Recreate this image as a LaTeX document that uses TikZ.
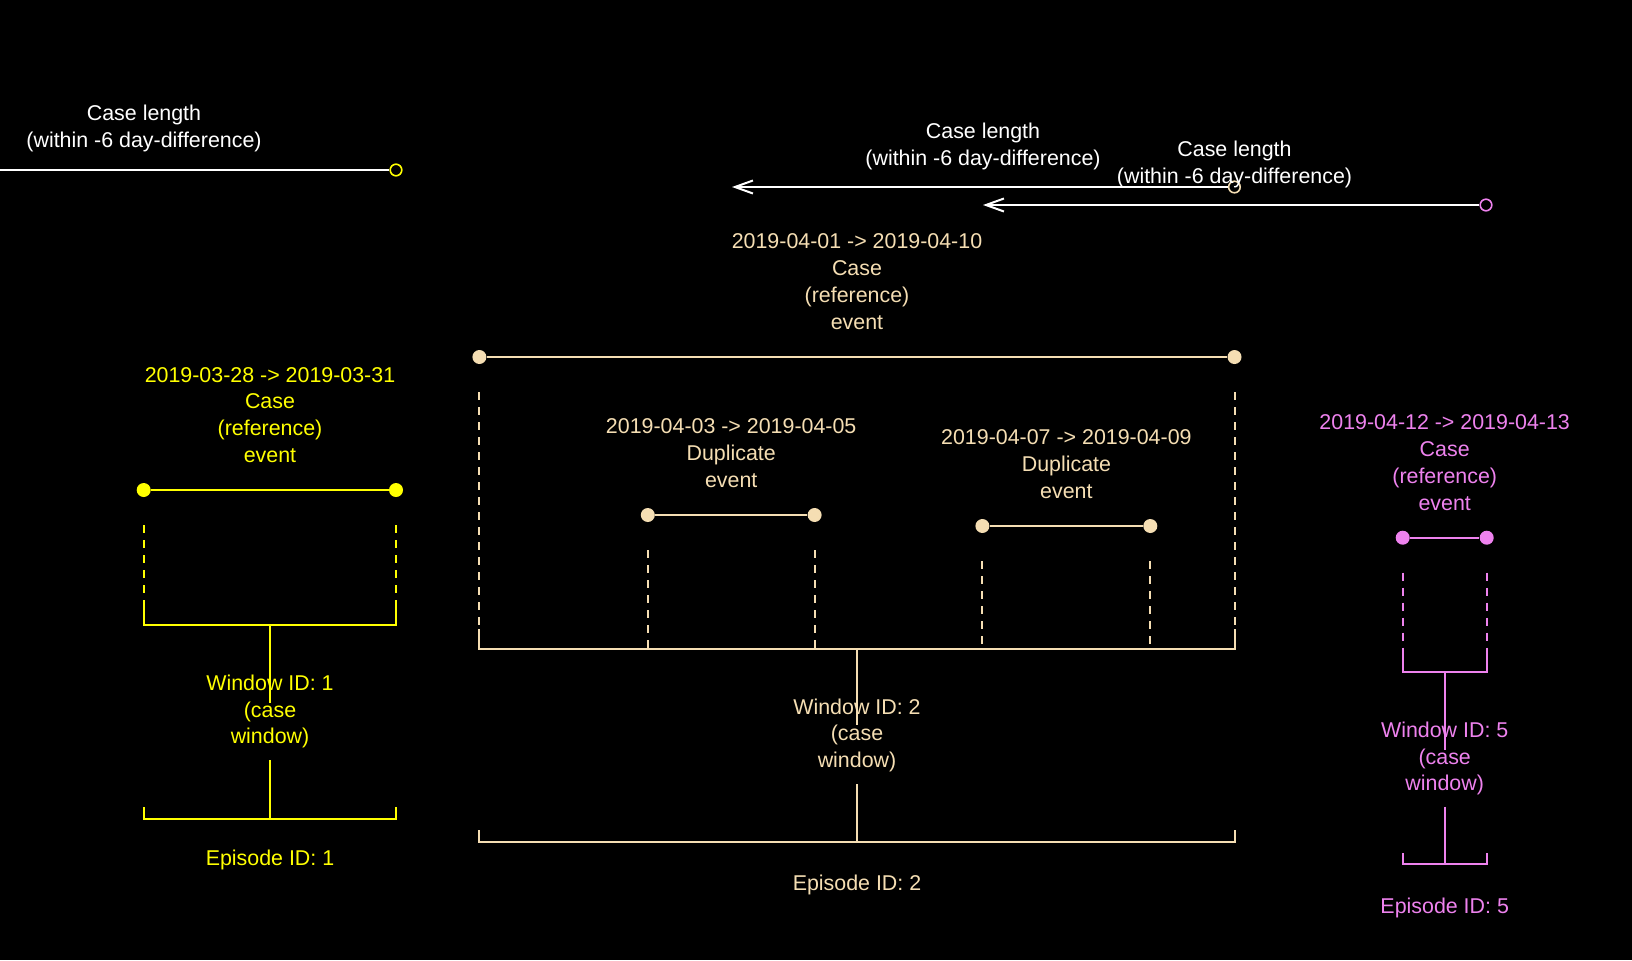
\documentclass[tikz,border=0pt]{standalone}
\usepackage{fontspec}
\setmainfont{Liberation Sans}
\usetikzlibrary{arrows.meta}
\definecolor{cyel}{RGB}{255,255,0}
\definecolor{cwht}{RGB}{245,222,179}
\definecolor{cvio}{RGB}{238,130,238}
\begin{document}
\begin{tikzpicture}[x=0.5pt,y=-0.5pt,
  lbl/.style={anchor=north, inner sep=0pt, align=center, font=\fontsize{10.7pt}{13.4pt}\selectfont},
  dot/.style={circle, fill=#1, inner sep=0pt, minimum size=7pt},
  ocirc/.style={circle, draw=#1, fill=black, line width=0.8pt, inner sep=0pt, minimum size=5.8pt},
  seg/.style={line width=1pt},
  dashline/.style={line width=1pt, dash pattern=on 4pt off 3.5pt},
  lenarrow/.style={white, line width=1pt, -{Straight Barb[length=9pt,width=6.5pt]}},
]
\path[use as bounding box, fill=black] (0,0) rectangle (1632,960);
\clip (0,0) rectangle (1632,960);

% ---------------- Case length arrows ----------------
\coordinate (t1) at (-106,170);
\node[ocirc=cyel] (c1) at (396,170) {};
\draw[lenarrow] (c1) -- (t1);
\node[lbl, white] (cl1) at (144,101.2) {\strut Case length\\(within -6 day-difference)};

\coordinate (t2) at (732,187);
\node[ocirc=cwht] (c2) at (1234.4,187) {};
\draw[lenarrow] (c2) -- (t2);
\node[lbl, white] (cl2) at (983,119.6) {\strut Case length\\(within -6 day-difference)};

\coordinate (t3) at (983,205);
\node[ocirc=cvio] (c3) at (1486,205) {};
\draw[lenarrow] (c3) -- (t3);
\node[lbl, white] (cl3) at (1234.5,137.2) {\strut Case length\\(within -6 day-difference)};

% ---------------- Left group (yellow) ----------------
\node[lbl, cyel] (e1lbl) at (270,362.9) {\strut 2019-03-28 -> 2019-03-31\\Case\\(reference)\\event};
\node[dot=cyel] (e1a) at (143.7,490) {};
\node[dot=cyel] (e1b) at (396,490) {};
\draw[seg, cyel] (e1a) -- (e1b);
\coordinate (d1a) at (143.7,525);
\coordinate (d1b) at (396,525);
\coordinate (w1l) at (143.7,625);
\coordinate (w1r) at (396,625);
\draw[dashline, cyel] (d1a) -- (w1l);
\draw[dashline, cyel] (d1b) -- (w1r);
\draw[seg, cyel] (143.7,606) -- (w1l) -- (w1r) -- (396,606);
\coordinate (w1c) at (270,625);
\coordinate (s1e) at (270,703);
\draw[seg, cyel] (w1c) -- (s1e);
\node[lbl, cyel] (win1) at (270,671.2) {\strut Window ID: 1\\(case\\window)};
\coordinate (s1b) at (270,760);
\coordinate (p1c) at (270,818.7);
\draw[seg, cyel] (s1b) -- (p1c);
\draw[seg, cyel] (143.7,807.3) -- (143.7,818.7) -- (396,818.7) -- (396,807.3);
\node[lbl, cyel] (ep1) at (270,846.2) {\strut Episode ID: 1};

% ---------------- Middle group (wheat) ----------------
\node[lbl, cwht] (e2lbl) at (857,229.6) {\strut 2019-04-01 -> 2019-04-10\\Case\\(reference)\\event};
\node[dot=cwht] (e2a) at (479.4,357) {};
\node[dot=cwht] (e2b) at (1234.5,357) {};
\draw[seg, cwht] (e2a) -- (e2b);

\node[lbl, cwht] (e3lbl) at (731.2,414.6) {\strut 2019-04-03 -> 2019-04-05\\Duplicate\\event};
\node[dot=cwht] (e3a) at (647.8,515) {};
\node[dot=cwht] (e3b) at (814.6,515) {};
\draw[seg, cwht] (e3a) -- (e3b);

\node[lbl, cwht] (e4lbl) at (1066.4,425.6) {\strut 2019-04-07 -> 2019-04-09\\Duplicate\\event};
\node[dot=cwht] (e4a) at (982.4,526) {};
\node[dot=cwht] (e4b) at (1150.3,526) {};
\draw[seg, cwht] (e4a) -- (e4b);

\coordinate (w2l) at (479.4,648.5);
\coordinate (w2r) at (1234.5,648.5);
\draw[dashline, cwht] (479.4,392) -- (w2l);
\draw[dashline, cwht] (1234.5,392) -- (w2r);
\draw[dashline, cwht] (647.8,550) -- (647.8,648.5);
\draw[dashline, cwht] (814.6,550) -- (814.6,648.5);
\draw[dashline, cwht] (982.4,561) -- (982.4,648.5);
\draw[dashline, cwht] (1150.3,561) -- (1150.3,648.5);
\draw[seg, cwht] (479.4,629) -- (w2l) -- (w2r) -- (1234.5,629);
\coordinate (w2c) at (857,648.5);
\coordinate (s2e) at (857,725);
\draw[seg, cwht] (w2c) -- (s2e);
\node[lbl, cwht] (win2) at (857,694.9) {\strut Window ID: 2\\(case\\window)};
\coordinate (s2b) at (857,784);
\coordinate (p2c) at (857,841.7);
\draw[seg, cwht] (s2b) -- (p2c);
\draw[seg, cwht] (479.4,830) -- (479.4,841.7) -- (1234.5,841.7) -- (1234.5,830);
\node[lbl, cwht] (ep2) at (857,871.6) {\strut Episode ID: 2};

% ---------------- Right group (violet) ----------------
\node[lbl, cvio] (e5lbl) at (1444.7,410.6) {\strut 2019-04-12 -> 2019-04-13\\Case\\(reference)\\event};
\node[dot=cvio] (e5a) at (1402.7,537.7) {};
\node[dot=cvio] (e5b) at (1486.7,537.7) {};
\draw[seg, cvio] (e5a) -- (e5b);
\coordinate (w5l) at (1402.7,671.7);
\coordinate (w5r) at (1486.7,671.7);
\draw[dashline, cvio] (1402.7,572.7) -- (w5l);
\draw[dashline, cvio] (1486.7,572.7) -- (w5r);
\draw[seg, cvio] (1402.7,653) -- (w5l) -- (w5r) -- (1486.7,653);
\coordinate (w5c) at (1444.7,671.7);
\coordinate (s5e) at (1444.7,750);
\draw[seg, cvio] (w5c) -- (s5e);
\node[lbl, cvio] (win5) at (1444.7,718.2) {\strut Window ID: 5\\(case\\window)};
\coordinate (s5b) at (1444.7,806.7);
\coordinate (p5c) at (1444.7,864.3);
\draw[seg, cvio] (s5b) -- (p5c);
\draw[seg, cvio] (1402.7,853) -- (1402.7,864.3) -- (1486.7,864.3) -- (1486.7,853);
\node[lbl, cvio] (ep5) at (1444.7,894.6) {\strut Episode ID: 5};
\end{tikzpicture}
\end{document}
